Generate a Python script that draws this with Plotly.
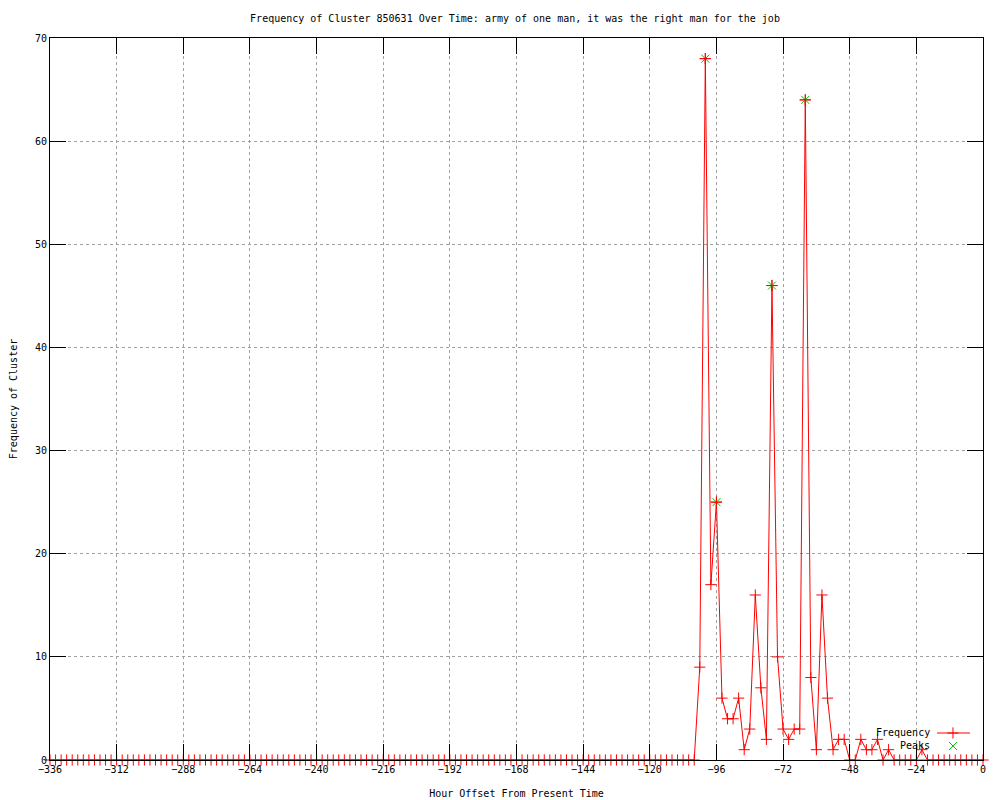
import plotly.graph_objects as go

# ---- data ----
hours = list(range(-336, 1, 2))
frequency = [
    0, 0, 0, 0, 0, 0, 0, 0, 0, 0, 0, 0,      # -336 .. -314
    0, 0, 0, 0, 0, 0, 0, 0, 0, 0, 0, 0,      # -312 .. -290
    0, 0, 0, 0, 0, 0, 0, 0, 0, 0, 0, 0,      # -288 .. -266
    0, 0, 0, 0, 0, 0, 0, 0, 0, 0, 0, 0,      # -264 .. -242
    0, 0, 0, 0, 0, 0, 0, 0, 0, 0, 0, 0,      # -240 .. -218
    0, 0, 0, 0, 0, 0, 0, 0, 0, 0, 0, 0,      # -216 .. -194
    0, 0, 0, 0, 0, 0, 0, 0, 0, 0, 0, 0,      # -192 .. -170
    0, 0, 0, 0, 0, 0, 0, 0, 0, 0, 0, 0,      # -168 .. -146
    0, 0, 0, 0, 0, 0, 0, 0, 0, 0, 0, 0,      # -144 .. -122
    0, 0, 0, 0, 0, 0, 0, 0, 0, 9, 68, 17,    # -120 .. -98
    25, 6, 4, 4, 6, 1, 3, 16, 7, 2, 46, 10,  # -96 .. -74
    3, 2, 3, 3, 64, 8, 1, 16, 6, 1, 2, 2,    # -72 .. -50
    0, 0, 2, 1, 1, 2, 0, 1, 0, 0, 0, 0,      # -48 .. -26
    0, 1, 0, 0, 0, 0, 0, 0, 0, 0, 0, 0,      # -24 .. -2
    0,                                       # 0
]
peak_hours = [-100, -96, -76, -64]
peak_values = [68, 25, 46, 64]

x_ticks = list(range(-336, 1, 24))
y_ticks = list(range(0, 71, 10))

FONT = "DejaVu Sans Mono"
RED = "#ff0000"
GREEN = "#00c000"

fig = go.Figure()
fig.add_trace(go.Scatter(
    x=hours, y=frequency, mode="lines+markers", name="Frequency",
    line=dict(color=RED, width=1),
    marker=dict(symbol="cross-thin", size=8, line=dict(color=RED, width=1), color=RED),
    cliponaxis=False, showlegend=False,
))
fig.add_trace(go.Scatter(
    x=peak_hours, y=peak_values, mode="markers", name="Peaks",
    marker=dict(symbol="x-thin", size=8, line=dict(color=GREEN, width=1), color=GREEN),
    cliponaxis=False, showlegend=False,
))
fig.add_trace(go.Scatter(
    x=peak_hours, y=peak_values, mode="markers", hoverinfo="skip",
    marker=dict(symbol="cross-thin", size=8, line=dict(color=RED, width=1), color=RED),
    cliponaxis=False, showlegend=False,
))

# manual gnuplot-style legend (samples on hidden overlay axes)
fig.add_trace(go.Scatter(
    x=[0.9507, 0.986], y=[0.0374, 0.0374], xaxis="x2", yaxis="y2", mode="lines",
    line=dict(color=RED, width=1), showlegend=False, hoverinfo="skip", cliponaxis=False,
))
fig.add_trace(go.Scatter(
    x=[0.9678], y=[0.0374], xaxis="x2", yaxis="y2", mode="markers",
    marker=dict(symbol="cross-thin", size=8, line=dict(color=RED, width=1)),
    showlegend=False, hoverinfo="skip", cliponaxis=False,
))
fig.add_trace(go.Scatter(
    x=[0.9678], y=[0.0194], xaxis="x2", yaxis="y2", mode="markers",
    marker=dict(symbol="x-thin", size=8, line=dict(color=GREEN, width=1)),
    showlegend=False, hoverinfo="skip", cliponaxis=False,
))
fig.add_annotation(text="Frequency", xref="paper", yref="paper", x=0.945, y=0.0374,
                   xanchor="right", yanchor="middle", showarrow=False,
                   font=dict(family=FONT, size=10, color="black"))
fig.add_annotation(text="Peaks", xref="paper", yref="paper", x=0.945, y=0.0194,
                   xanchor="right", yanchor="middle", showarrow=False,
                   font=dict(family=FONT, size=10, color="black"))

axis_common = dict(
    showline=True, linecolor="black", linewidth=1, mirror="ticks",
    ticks="inside", ticklen=16, tickcolor="black", tickwidth=1,
    showgrid=True, gridcolor="#a0a0a0", griddash="dot", gridwidth=1,
    zeroline=False, automargin=False,
    tickfont=dict(family=FONT, size=10, color="black"),
)

fig.update_layout(
    width=1000, height=800,
    paper_bgcolor="white", plot_bgcolor="white",
    margin=dict(l=42, r=25, t=30, b=48),
    title=dict(text="Frequency of Cluster 850631 Over Time: army of one man, it was the right man for the job",
               x=0.507, xanchor="center", y=0.9875, yanchor="middle",
               font=dict(family=FONT, size=10, color="black")),
    xaxis=dict(range=[-336, 0], tickvals=x_ticks,
               title=dict(text="Hour Offset From Present Time", standoff=15,
                          font=dict(family=FONT, size=10, color="black")),
               **axis_common),
    yaxis=dict(range=[0, 70], tickvals=y_ticks,
               title=dict(text="Frequency of Cluster", standoff=16,
                          font=dict(family=FONT, size=10, color="black")),
               **axis_common),
    xaxis2=dict(overlaying="x", range=[0, 1], visible=False, fixedrange=True),
    yaxis2=dict(overlaying="y", range=[0, 1], visible=False, fixedrange=True),
    showlegend=False,
)

fig.write_html("out.html")
